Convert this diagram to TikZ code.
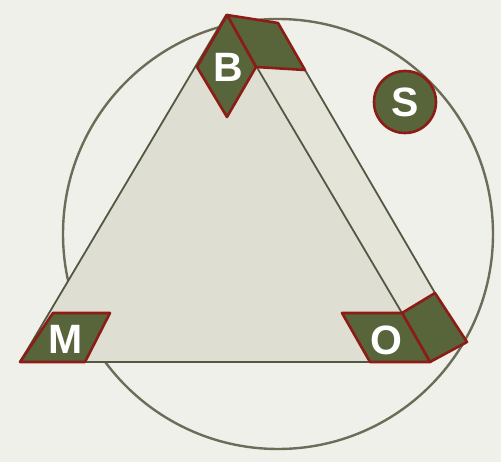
\documentclass[tikz,border=0pt]{standalone}
\usepackage{fontspec}
\setsansfont{Liberation Sans}
\definecolor{PieceGreen}{RGB}{88,100,58}
\definecolor{PieceRed}{RGB}{140,28,22}
\definecolor{RingGrey}{RGB}{108,108,88}
\definecolor{FaceBeige}{RGB}{222,222,210}
\definecolor{SideBeige}{RGB}{228,228,217}
\definecolor{PaperWhite}{RGB}{240,240,234}
\definecolor{EdgeOlive}{RGB}{84,88,66}

\begin{document}
\begin{tikzpicture}[x=1pt, y=-1pt,
    piece/.style={fill=PieceGreen, draw=PieceRed, line width=2.6pt, line join=round},
    letter/.style={font=\sffamily\bfseries\fontsize{41}{41}\selectfont, text=white, inner sep=0pt},
    prismedge/.style={EdgeOlive, line width=1.8pt, line join=round}]
                % Paper
                \fill[PaperWhite] (0,0) rectangle (501,462);
                \useasboundingbox (0,0) rectangle (501,462);
                
                % Ring behind the prism
                \draw[RingGrey, line width=2.4pt] (278,234) circle (215);
                
                % Prism faces
                \fill[SideBeige] (256,67) -- (305,70) -- (435,293) -- (402,313) -- cycle;
                \fill[FaceBeige] (226,15) -- (20,362) -- (431,362) -- cycle;
                \draw[prismedge] (402,313) -- (226,15) -- (20,362) -- (431,362);
                \draw[prismedge] (305,70) -- (435,293);
                
                % Corner B
                \draw[piece] (227,15) -- (278,23) -- (305,70) -- (256,67) -- cycle;
                \draw[piece] (227,15) -- (197,67) -- (227,117) -- (256,67) -- cycle;
                \node[letter] (b) at (228,67) {B};
                
                % Corner M
                \draw[piece] (20,362) -- (85,362) -- (110,313) -- (53,313) -- cycle;
                \node[letter] (m) at (66,339) {M};
                
                % Corner O
                \draw[piece] (402,313) -- (435,293) -- (467,342) -- (430,362) -- cycle;
                \draw[piece] (342,313) -- (402,313) -- (430,362) -- (370,362) -- cycle;
                \node[letter] (o) at (386,340) {O};
                
                % Satellite S
                \node[piece, circle, minimum size=62pt, inner sep=0pt] (s) at (405,102) {};
                \node[letter] (slabel) at (s) {S};
            \end{tikzpicture}
\end{document}
